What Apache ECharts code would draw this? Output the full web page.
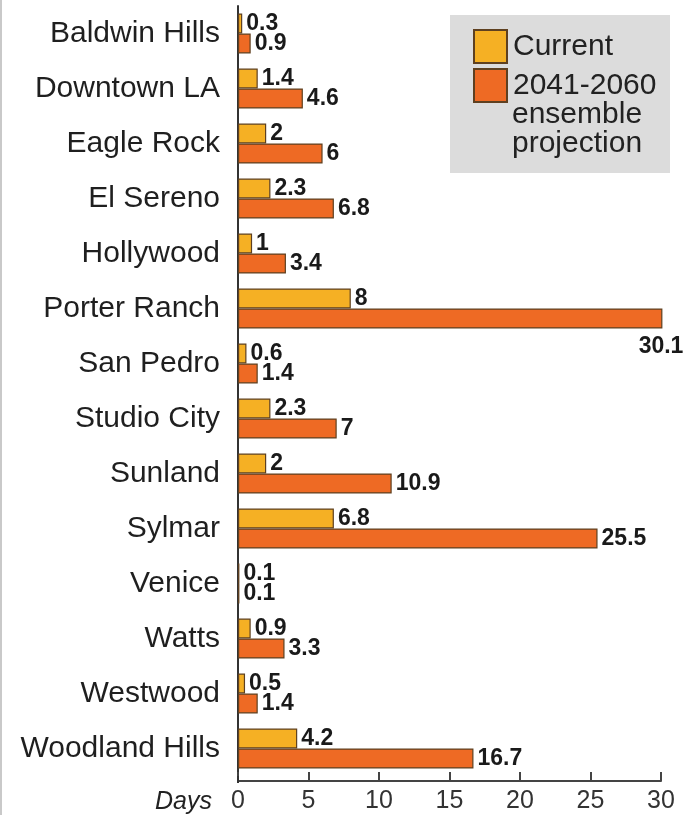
<!DOCTYPE html>
<html>
<head>
<meta charset="utf-8">
<script src="https://cdn.jsdelivr.net/npm/echarts@6/dist/echarts.min.js"></script>
<style>
  html, body { margin: 0; padding: 0; background: #ffffff; }
  #chart { width: 690px; height: 815px; }
</style>
</head>
<body>
<div id="chart"></div>
<script>
// Extreme-heat days per year by Los Angeles neighborhood
const neighborhoods = [
  'Baldwin Hills', 'Downtown LA', 'Eagle Rock', 'El Sereno', 'Hollywood',
  'Porter Ranch', 'San Pedro', 'Studio City', 'Sunland', 'Sylmar',
  'Venice', 'Watts', 'Westwood', 'Woodland Hills'
];
const currentDays   = [0.3, 1.4, 2, 2.3, 1, 8, 0.6, 2.3, 2, 6.8, 0.1, 0.9, 0.5, 4.2];
const projectedDays = [0.9, 4.6, 6, 6.8, 3.4, 30.1, 1.4, 7, 10.9, 25.5, 0.1, 3.3, 1.4, 16.7];
const dayTicks = [0, 5, 10, 15, 20, 25, 30];
const seriesNames = ['Current', '2041-2060 ensemble projection'];
const axisTitle = 'Days';

const YELLOW = '#F5B024';
const ORANGE = '#EE6A24';
const EDGE = '#5e4020';
const TEXT_FONT = "'Liberation Sans', Arial, sans-serif";

const chart = echarts.init(document.getElementById('chart'), null, { renderer: 'canvas' });

const valueLabel = {
  show: true,
  position: 'right',
  distance: 4,
  color: '#1a1a1a',
  fontFamily: TEXT_FONT,
  fontWeight: 'bold',
  fontSize: 23,
  formatter: p => String(p.value)
};

// The longest bar runs to the frame edge, so its value sits beneath it
const maxTick = dayTicks[dayTicks.length - 1];
const projectedData = projectedDays.map(v => v > maxTick
  ? { value: v, label: { position: ['100%', '100%'], align: 'right', verticalAlign: 'top', offset: [21, 7] } }
  : v);

// Legend continuation lines: the second series name wraps under its first word
const nameParts = seriesNames[1].split(' ');

const option = {
  backgroundColor: '#ffffff',
  animation: false,
  grid: { left: 238, top: 6, width: 423, height: 771, containLabel: false },
  legend: {
    orient: 'vertical',
    left: 468,
    top: 24,
    itemWidth: 33,
    itemHeight: 33,
    itemGap: 4,
    icon: 'rect',
    selectedMode: false,
    formatter: name => name.split(' ')[0],
    textStyle: { fontFamily: TEXT_FONT, fontSize: 30, color: '#222', padding: [0, 0, 0, 1] },
    data: seriesNames
  },
  xAxis: {
    type: 'value',
    min: 0,
    max: maxTick,
    interval: 5,
    offset: 5,
    name: axisTitle,
    nameLocation: 'start',
    nameGap: 26,
    nameTextStyle: {
      fontFamily: TEXT_FONT, fontStyle: 'italic', fontSize: 25, color: '#222',
      align: 'right', verticalAlign: 'top', padding: [9, 0, 0, 0]
    },
    axisLine: { show: true, lineStyle: { color: '#444', width: 2 } },
    axisTick: { show: true, inside: true, length: 9, lineStyle: { color: '#444', width: 2 } },
    axisLabel: {
      margin: 8, fontFamily: TEXT_FONT, fontSize: 25, color: '#333',
      formatter: v => dayTicks.includes(v) ? String(v) : ''
    },
    splitLine: { show: false }
  },
  yAxis: {
    type: 'category',
    inverse: true,
    data: neighborhoods,
    axisLine: { show: true, lineStyle: { color: '#333', width: 2 } },
    axisTick: { show: false },
    axisLabel: { margin: 18, fontFamily: TEXT_FONT, fontSize: 30, color: '#1f1f1f' }
  },
  series: [
    {
      name: seriesNames[0],
      type: 'bar',
      data: currentDays,
      barWidth: 20,
      barGap: '0%',
      clip: false,
      itemStyle: { color: YELLOW, borderColor: EDGE, borderWidth: 1.2 },
      label: valueLabel
    },
    {
      name: seriesNames[1],
      type: 'bar',
      data: projectedData,
      barWidth: 20,
      barGap: '0%',
      clip: false,
      itemStyle: { color: ORANGE, borderColor: EDGE, borderWidth: 1.2 },
      label: valueLabel
    }
  ]
};

chart.setOption(option);

// Legend panel, wrapped legend text, frame edge and the y-axis run down to the offset x-axis
const origin = chart.convertToPixel({ xAxisIndex: 0 }, 0);
const gridBottom = 6 + 771;
chart.setOption({
  graphic: [
    { type: 'rect', z: -10, silent: true, shape: { x: 450, y: 15, width: 220, height: 158 }, style: { fill: '#dcdcdc' } },
    { type: 'text', z: 10, silent: true, x: 512, y: 100,
      style: { text: nameParts.slice(1).join('\n'), font: '30px ' + TEXT_FONT, lineHeight: 29, fill: '#222', verticalAlign: 'top' } },
    { type: 'line', z: 10, silent: true, shape: { x1: origin, y1: gridBottom - 1, x2: origin, y2: gridBottom + 6 }, style: { stroke: '#333', lineWidth: 2 } },
    { type: 'line', z: 10, silent: true, shape: { x1: 1, y1: 0, x2: 1, y2: 815 }, style: { stroke: '#c9c9c9', lineWidth: 2 } }
  ]
});
</script>
</body>
</html>
